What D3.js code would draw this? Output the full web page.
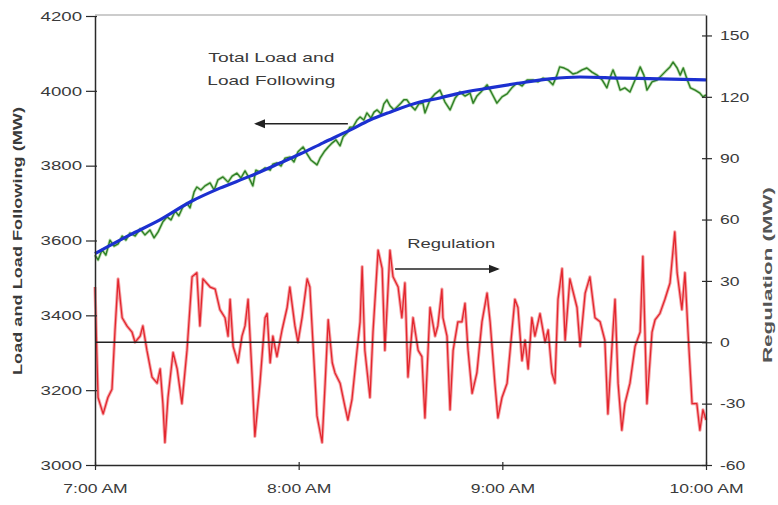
<!DOCTYPE html>
<html><head><meta charset="utf-8">
<script src="https://cdn.jsdelivr.net/npm/d3@7"></script>
<style>body{margin:0;background:#fff}</style>
</head><body><svg id="c" width="778" height="505"></svg>
<script>
// ---- data ----
const timeTicks = [0, 60, 120, 180];
const timeLabels = ["7:00 AM", "8:00 AM", "9:00 AM", "10:00 AM"];
const leftTicks = [3000, 3200, 3400, 3600, 3800, 4000, 4200];
const rightTicks = [-60, -30, 0, 30, 60, 90, 120, 150];

// Load following (smooth, blue) - minutes after 7:00 AM, MW
const followMin = [0,10.3,19.1,28,36.8,45.7,54.5,60.4,67.2,75.1,81,86.9,95.7,101.6,107.5,116.4,125.2,134,142.9,154.7,166.4,180];
const followMW  = [3565,3615,3655,3703,3740,3772,3807,3831,3861,3895,3922,3943,3970,3981,3994,4008,4021,4032,4037,4034,4032,4029];

// Total load (green)
const loadMin = [0,0.9,2.1,3.2,4.4,5.6,6.8,8.0,9.1,10.3,11.8,13.3,14.7,16.2,17.4,18.6,20.0,21.2,22.4,23.6,24.7,25.9,27.1,28.0,29.2,30.0,31.2,32.4,33.9,35.1,36.2,37.7,39.2,40.4,41.8,43.0,44.2,45.4,46.5,47.4,48.6,50.1,51.6,52.4,53.6,54.8,56.0,57.4,58.6,59.8,61.3,62.5,63.6,65.4,66.3,67.5,68.7,69.9,71.0,72.2,73.1,74.2,75.1,76.0,77.2,78.1,79.2,80.1,81.3,82.2,83.1,84.3,85.1,86.0,86.9,88.1,89.0,90.1,91.0,91.9,93.1,94.3,95.4,96.6,97.2,98.7,100.2,101.6,103.1,104.6,106.1,107.5,109.0,110.5,111.4,112.5,113.7,115.5,116.7,118.4,119.9,121.4,122.8,124.3,125.8,127.3,129.0,130.5,132.0,133.5,134.9,136.1,136.9,138.2,139.3,140.8,142.0,143.5,144.9,146.4,147.9,149.4,150.8,151.7,152.6,153.8,154.7,156.1,157.6,159.1,160.6,161.7,162.6,164.1,165.6,167.0,168.5,169.4,170.3,171.5,172.4,173.3,174.5,175.4,176.8,178.2,179.1,180];
const loadMW  = [3561,3548,3575,3561,3601,3585,3591,3612,3601,3620,3612,3631,3615,3628,3607,3623,3650,3663,3655,3679,3666,3690,3700,3687,3730,3743,3735,3746,3754,3735,3762,3770,3756,3772,3780,3767,3786,3767,3746,3788,3783,3794,3788,3804,3807,3799,3820,3823,3810,3837,3850,3831,3815,3802,3820,3837,3850,3861,3869,3853,3877,3887,3903,3903,3922,3930,3922,3941,3927,3943,3949,3938,3965,3976,3960,3949,3957,3967,3976,3976,3960,3949,3965,3967,3941,3976,3992,4002,3970,3949,3981,3997,3986,3994,3967,3986,3997,4016,3997,3967,3984,3992,4008,4021,4013,4029,4029,4024,4034,4029,4016,4042,4064,4061,4056,4045,4048,4056,4061,4050,4042,4029,4008,4034,4056,4029,4002,4008,3997,4029,4064,4042,4002,4024,4029,4042,4056,4064,4077,4061,4042,4061,4029,4008,4002,3994,3984,3989];

// Regulation (red)
const regMin = [0,0.9,2.4,3.8,5.0,5.9,6.8,8.0,9.4,10.9,11.8,13.3,14.1,15.3,16.8,18.3,19.2,20.0,20.6,21.5,23.0,24.2,25.6,27.1,28.6,30.0,30.9,31.8,33.9,35.4,36.8,38.3,39.2,39.8,40.7,42.1,43.3,44.2,45.1,46.3,47.1,48.6,50.1,50.7,51.6,52.4,53.6,55.1,56.6,57.4,58.9,59.8,61.0,62.5,63.3,64.2,65.4,66.9,67.8,68.7,69.9,70.7,72.2,73.7,74.5,75.7,77.2,78.1,78.7,79.5,81.0,81.9,83.4,84.6,85.4,86.9,87.8,89.3,90.4,91.3,92.2,93.7,95.2,96.3,97.2,98.7,100.2,101.0,102.2,102.5,103.7,104.6,105.5,106.9,108.1,109.0,109.9,111.1,112.5,114.0,115.5,116.4,117.8,118.7,119.9,121.4,122.8,123.7,124.6,125.8,126.7,127.6,128.7,129.6,131.1,132.6,133.5,134.6,135.5,136.4,137.6,138.5,139.9,142.0,142.9,144.4,145.8,147.3,148.8,150.2,151.1,152.6,153.2,154.1,155.2,156.1,157.6,159.1,160.6,161.4,162.6,164.1,165.0,166.4,167.9,169.4,170.8,171.5,172.9,173.8,174.7,175.9,177.3,178.2,179.1,180];
const regMW  = [27,-27,-35,-27,-23,6,31,12,8,5,0,3,8,-4,-17,-20,-13,-30,-49,-27,-5,-13,-30,-4,32,34,8,31,27,26,16,12,3,21,-2,-10,3,8,21,-17,-46,-20,12,14,-10,3,-7,6,17,27,8,0,12,31,27,0,-36,-49,-20,11,-10,-15,-20,-32,-38,-28,-4,10,37,-4,-27,5,45,36,-4,45,32,27,12,29,-17,12,-4,-7,-37,17,3,8,26,12,3,-33,-4,10,10,19,-4,-25,-15,10,24,10,-20,-37,-27,-20,5,21,17,-9,1,-13,12,3,14,0,6,-15,-20,21,36,1,31,17,-2,24,32,12,10,1,-35,6,21,-20,-43,-30,-20,-2,5,42,-30,5,11,14,21,29,54,34,16,34,5,-30,-30,-43,-33,-38];

// annotations
const annoLoadText = ["Total Load and", "Load Following"];
const annoRegText = "Regulation";

// ---- chart ----
const svg = d3.select("#c");
const L = 95, R = 706, T = 15, B = 465;
const x = d3.scaleLinear().domain([0, 180]).range([L, R]);
const yL = d3.scaleLinear().domain([3000, 4200]).range([B, 16]);
const yR = d3.scaleLinear().domain([-60, 160]).range([B, T]);
const FONT = "'Liberation Sans', Arial, sans-serif";
const TXT = "#3a3a3a";

function stretch(sel, k) {
  sel.each(function () {
    const w = this.getComputedTextLength();
    this.setAttribute("textLength", w * k);
    this.setAttribute("lengthAdjust", "spacingAndGlyphs");
  });
}
function fitTo(sel, w) {
  sel.attr("textLength", w).attr("lengthAdjust", "spacingAndGlyphs");
}

// top border
svg.append("line").attr("x1", L).attr("x2", R).attr("y1", T).attr("y2", T)
  .attr("stroke", "#9a9a9a").attr("stroke-width", 1.2);

// regulation line
const redLine = d3.line().x((d, i) => x(regMin[i])).y(d => yR(d));
svg.append("path").datum(regMW).attr("d", redLine).attr("fill", "none")
  .attr("stroke", "#f5a5a8").attr("stroke-width", 3.2).attr("stroke-linejoin", "round");
svg.append("path").datum(regMW).attr("d", redLine).attr("fill", "none")
  .attr("stroke", "#e3262e").attr("stroke-width", 1.3).attr("stroke-linejoin", "round");

// zero line
svg.append("line").attr("x1", L).attr("x2", R).attr("y1", yR(0)).attr("y2", yR(0))
  .attr("stroke", "#222").attr("stroke-width", 1.3);

// total load line
const greenLine = d3.line().x((d, i) => x(loadMin[i])).y(d => yL(d));
svg.append("path").datum(loadMW).attr("d", greenLine).attr("fill", "none")
  .attr("stroke", "#9fd08f").attr("stroke-width", 3).attr("stroke-linejoin", "round").attr("opacity", 0.7);
svg.append("path").datum(loadMW).attr("d", greenLine).attr("fill", "none")
  .attr("stroke", "#2f7f26").attr("stroke-width", 1.4).attr("stroke-linejoin", "round");

// load following line
const blueLine = d3.line().x((d, i) => x(followMin[i])).y(d => yL(d)).curve(d3.curveMonotoneX);
svg.append("path").datum(followMW).attr("d", blueLine).attr("fill", "none")
  .attr("stroke", "#1c30d0").attr("stroke-width", 3.2);

// axes
const axL = svg.append("g").attr("transform", `translate(${L},0)`)
  .call(d3.axisLeft(yL).tickValues(leftTicks).tickFormat(d => String(d))
    .tickSize(9).tickPadding(4).tickSizeOuter(0));
axL.selectAll(".tick line").attr("x1", 2);
const axR = svg.append("g").attr("transform", `translate(${R},0)`)
  .call(d3.axisRight(yR).tickValues(rightTicks).tickFormat(d => String(d))
    .tickSize(6).tickPadding(8).tickSizeOuter(0));
axR.selectAll(".tick line").attr("x1", -4);
const axB = svg.append("g").attr("transform", `translate(0,${B})`)
  .call(d3.axisBottom(x).tickValues(timeTicks).tickFormat((d, i) => timeLabels[i])
    .tickSize(5).tickPadding(13).tickSizeOuter(0));
axB.selectAll(".tick line").attr("y1", -3);

[axL, axR, axB].forEach(a => {
  a.select(".domain").attr("stroke", "#2a2a2a").attr("stroke-width", 1.5);
  a.selectAll(".tick line").attr("stroke", "#2a2a2a").attr("stroke-width", 1.2);
  a.selectAll(".tick text").attr("font-family", FONT).attr("font-size", 13.5).attr("fill", TXT);
});
stretch(axL.selectAll(".tick text"), 1.38);
stretch(axR.selectAll(".tick text"), 1.3);
stretch(axB.selectAll(".tick text"), 1.3);

// axis titles
svg.append("text").attr("transform", "translate(22,241) rotate(-90)")
  .attr("text-anchor", "middle").attr("font-family", FONT).attr("font-weight", "bold")
  .attr("font-size", 13.5).attr("fill", TXT).text("Load and Load Following (MW)")
  .call(fitTo, 268);
svg.append("text").attr("transform", "translate(772,275) rotate(-90)")
  .attr("text-anchor", "middle").attr("font-family", FONT).attr("font-weight", "bold")
  .attr("font-size", 13.5).attr("fill", "#555").text("Regulation (MW)")
  .call(fitTo, 176);

// annotations
svg.append("defs").append("marker").attr("id", "ah").attr("viewBox", "0 0 10 10")
  .attr("refX", 8).attr("refY", 5).attr("markerWidth", 7).attr("markerHeight", 7)
  .attr("orient", "auto-start-reverse")
  .append("path").attr("d", "M0,1 L10,5 L0,9 Z").attr("fill", "#222");

svg.append("text").attr("x", x(33.4)).attr("y", 62).attr("font-family", FONT)
  .attr("font-size", 13.5).attr("fill", TXT).text(annoLoadText[0]).call(fitTo, 126);
svg.append("text").attr("x", x(33.1)).attr("y", 85).attr("font-family", FONT)
  .attr("font-size", 13.5).attr("fill", TXT).text(annoLoadText[1]).call(fitTo, 128);
svg.append("line").attr("x1", x(74.5)).attr("x2", x(47.5)).attr("y1", yL(3912)).attr("y2", yL(3912))
  .attr("stroke", "#222").attr("stroke-width", 1.6).attr("marker-end", "url(#ah)");

svg.append("text").attr("x", x(92)).attr("y", 248).attr("font-family", FONT)
  .attr("font-size", 13.5).attr("fill", TXT).text(annoRegText).call(fitTo, 88);
svg.append("line").attr("x1", x(88.4)).attr("x2", x(118.6)).attr("y1", yR(35.8)).attr("y2", yR(35.8))
  .attr("stroke", "#222").attr("stroke-width", 1.6).attr("marker-end", "url(#ah)");
</script></body></html>
